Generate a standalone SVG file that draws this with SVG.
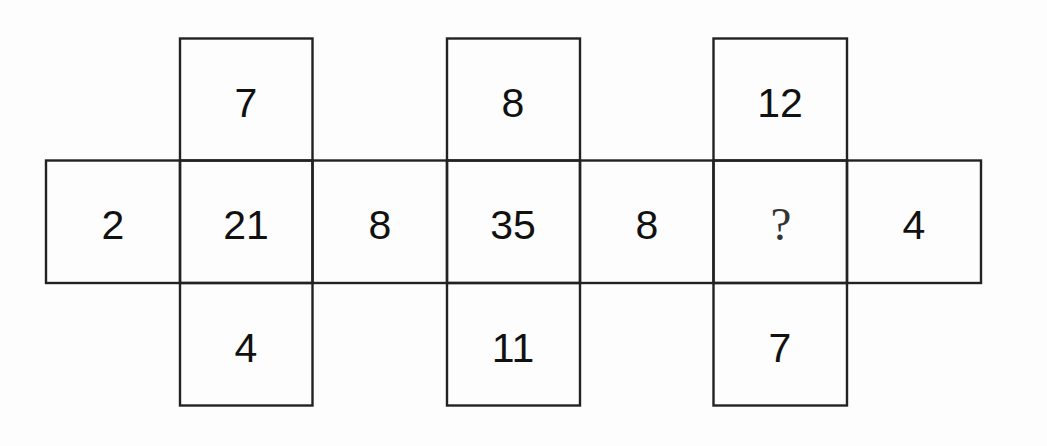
<svg xmlns="http://www.w3.org/2000/svg" width="1047" height="446" viewBox="0 0 1047 446">
<style>
.cell{fill:none;stroke:#222;stroke-width:2.4}
.num{font-family:"Liberation Sans",Arial,sans-serif;font-size:41px;fill:#111;text-anchor:middle}
.q{font-family:"Liberation Serif","Times New Roman",serif;font-size:47px;fill:#333;text-anchor:middle}
</style>
<rect width="1047" height="446" fill="#fdfdfd"/>
<g id="cells">
<g id="c1-top"><rect class="cell" x="180" y="38.5" width="132.5" height="122"/><text class="num" x="246" y="117">7</text></g>
<g id="c1-left"><rect class="cell" x="46" y="160.5" width="134" height="122.5"/><text class="num" x="113" y="239">2</text></g>
<g id="c1-mid"><rect class="cell" x="180" y="160.5" width="132.5" height="122.5"/><text class="num" x="246" y="239">21</text></g>
<g id="c1-bot"><rect class="cell" x="180" y="283" width="132.5" height="122.5"/><text class="num" x="246" y="362">4</text></g>
<g id="c2-left"><rect class="cell" x="312.5" y="160.5" width="134.5" height="122.5"/><text class="num" x="380" y="239">8</text></g>
<g id="c2-top"><rect class="cell" x="447" y="38.5" width="133" height="122"/><text class="num" x="513" y="117">8</text></g>
<g id="c2-mid"><rect class="cell" x="447" y="160.5" width="133" height="122.5"/><text class="num" x="513" y="239">35</text></g>
<g id="c2-bot"><rect class="cell" x="447" y="283" width="133" height="122.5"/><text class="num" x="513" y="362">11</text></g>
<g id="c3-left"><rect class="cell" x="580" y="160.5" width="133.5" height="122.5"/><text class="num" x="647" y="239">8</text></g>
<g id="c3-top"><rect class="cell" x="713.5" y="38.5" width="133.5" height="122"/><text class="num" x="780" y="117">12</text></g>
<g id="c3-mid"><rect class="cell" x="713.5" y="160.5" width="133.5" height="122.5"/><text class="q" x="781" y="240">?</text></g>
<g id="c3-bot"><rect class="cell" x="713.5" y="283" width="133.5" height="122.5"/><text class="num" x="780" y="362">7</text></g>
<g id="c3-right"><rect class="cell" x="847" y="160.5" width="134" height="122.5"/><text class="num" x="914" y="239">4</text></g>
</g>
<g id="connectors"></g>
</svg>
